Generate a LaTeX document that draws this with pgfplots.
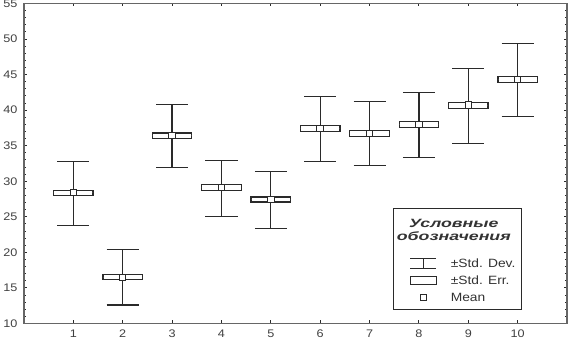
\documentclass[border=0pt]{standalone}
\usepackage{fontspec}
\setmainfont{Liberation Sans}[FakeStretch=1.15]
\newfontfamily\titlefont{Liberation Sans}[FakeStretch=1.48]
\usepackage{pgfplots}
\pgfplotsset{compat=1.18}
\usepgfplotslibrary{statistics}
\definecolor{ink}{HTML}{2A2A2A}
\begin{document}
\begin{tikzpicture}
\path[use as bounding box] (-24pt,-15.5pt) rectangle (546pt,323.5pt);
\begin{axis}[
  scale only axis, width=543pt, height=320pt,
  xmin=0, xmax=11, ymin=10, ymax=55,
  xtick={1,...,10}, ytick={10,15,...,55},
  minor y tick num=4,
  tick align=inside,
  major tick length=3pt, minor tick length=2pt,
  every tick/.style={ink, line width=0.9pt},
  axis line style={black!60, line width=1.2pt},
  ticklabel style={font=\fontsize{11}{12}\selectfont, text=black!75},
  /pgf/number format/assume math mode=true,
  xticklabel style={yshift=-2.5pt},
  yticklabel style={xshift=-3pt},
  boxplot/draw direction=y,
  boxplot/box extend=0.8,
  boxplot/whisker extend=0.65,
  boxplot/every median/.style={draw=none},
  legend style={at={(axis description cs:0.6796,0.362)}, anchor=north west,
    draw=ink, line width=1.2pt, fill=white,
    font=\fontsize{12}{13}\selectfont, text=black!80,
    inner xsep=4pt, inner ysep=5pt, row sep=3pt},
  legend cell align=left,
]
% group: lower whisker (mean-SD), lower quartile (mean-SE), median (mean), upper quartile (mean+SE), upper whisker (mean+SD)
\addplot[forget plot, ink, line width=1.3pt, fill=white, boxplot prepared={draw position=1, lower whisker=23.8, lower quartile=28.0, median=28.4, upper quartile=28.75, upper whisker=32.8}] coordinates {};
\addplot[forget plot, ink, line width=1.3pt, fill=white, boxplot prepared={draw position=2, lower whisker=12.6, lower quartile=16.2, median=16.5, upper quartile=16.85, upper whisker=20.4}] coordinates {};
\addplot[forget plot, ink, line width=1.3pt, fill=white, boxplot prepared={draw position=3, lower whisker=31.9, lower quartile=36.0, median=36.4, upper quartile=36.8, upper whisker=40.75}] coordinates {};
\addplot[forget plot, ink, line width=1.3pt, fill=white, boxplot prepared={draw position=4, lower whisker=25.05, lower quartile=28.66, median=29.1, upper quartile=29.5, upper whisker=32.96}] coordinates {};
\addplot[forget plot, ink, line width=1.3pt, fill=white, boxplot prepared={draw position=5, lower whisker=23.4, lower quartile=27.1, median=27.4, upper quartile=27.8, upper whisker=31.33}] coordinates {};
\addplot[forget plot, ink, line width=1.3pt, fill=white, boxplot prepared={draw position=6, lower whisker=32.74, lower quartile=37.0, median=37.4, upper quartile=37.8, upper whisker=41.97}] coordinates {};
\addplot[forget plot, ink, line width=1.3pt, fill=white, boxplot prepared={draw position=7, lower whisker=32.26, lower quartile=36.34, median=36.7, upper quartile=37.1, upper whisker=41.2}] coordinates {};
\addplot[forget plot, ink, line width=1.3pt, fill=white, boxplot prepared={draw position=8, lower whisker=33.3, lower quartile=37.6, median=38.0, upper quartile=38.36, upper whisker=42.53}] coordinates {};
\addplot[forget plot, ink, line width=1.3pt, fill=white, boxplot prepared={draw position=9, lower whisker=35.36, lower quartile=40.23, median=40.7, upper quartile=41.12, upper whisker=45.9}] coordinates {};
\addplot[forget plot, ink, line width=1.3pt, fill=white, boxplot prepared={draw position=10, lower whisker=39.1, lower quartile=43.85, median=44.3, upper quartile=44.7, upper whisker=49.33}] coordinates {};
% means
\addplot[forget plot, only marks, mark=square*, mark size=3.2pt, mark options={fill=white, draw=ink, line width=1pt}] coordinates {
(1,28.4) (2,16.5) (3,36.4) (4,29.1) (5,27.4) (6,37.4) (7,36.7) (8,38.0) (9,40.7) (10,44.3)};
% legend
\addlegendimage{legend image code/.code={\path (-12pt,0pt) (38pt,0pt);}}
\addlegendentry{\hspace*{3pt}\makebox[0pt][c]{\titlefont\fontsize{12}{13.5}\selectfont\bfseries\itshape\begin{tabular}{@{}c@{}}\rule{0pt}{12pt}Условные\\обозначения\\\rule{0pt}{30pt}\end{tabular}}}
\addlegendimage{legend image code/.code={\path (-12pt,0pt) (38pt,0pt); \draw[ink, line width=1.2pt] (0pt,-5pt) -- (26pt,-5pt) (13pt,-5pt) -- (13pt,5pt) (0pt,5pt) -- (26pt,5pt);}}
\addlegendentry{±Std. Dev.}
\addlegendimage{legend image code/.code={\path (-12pt,0pt) (38pt,0pt); \draw[ink, line width=1.2pt, fill=white] (0pt,-4pt) rectangle (26pt,4pt);}}
\addlegendentry{±Std. Err.}
\addlegendimage{legend image code/.code={\path (-12pt,0pt) (38pt,0pt); \draw[ink, line width=1pt, fill=white] (10pt,-3pt) rectangle (16pt,3pt);}}
\addlegendentry{Mean\rule[-17pt]{0pt}{17pt}}
\end{axis}
\end{tikzpicture}
\end{document}
